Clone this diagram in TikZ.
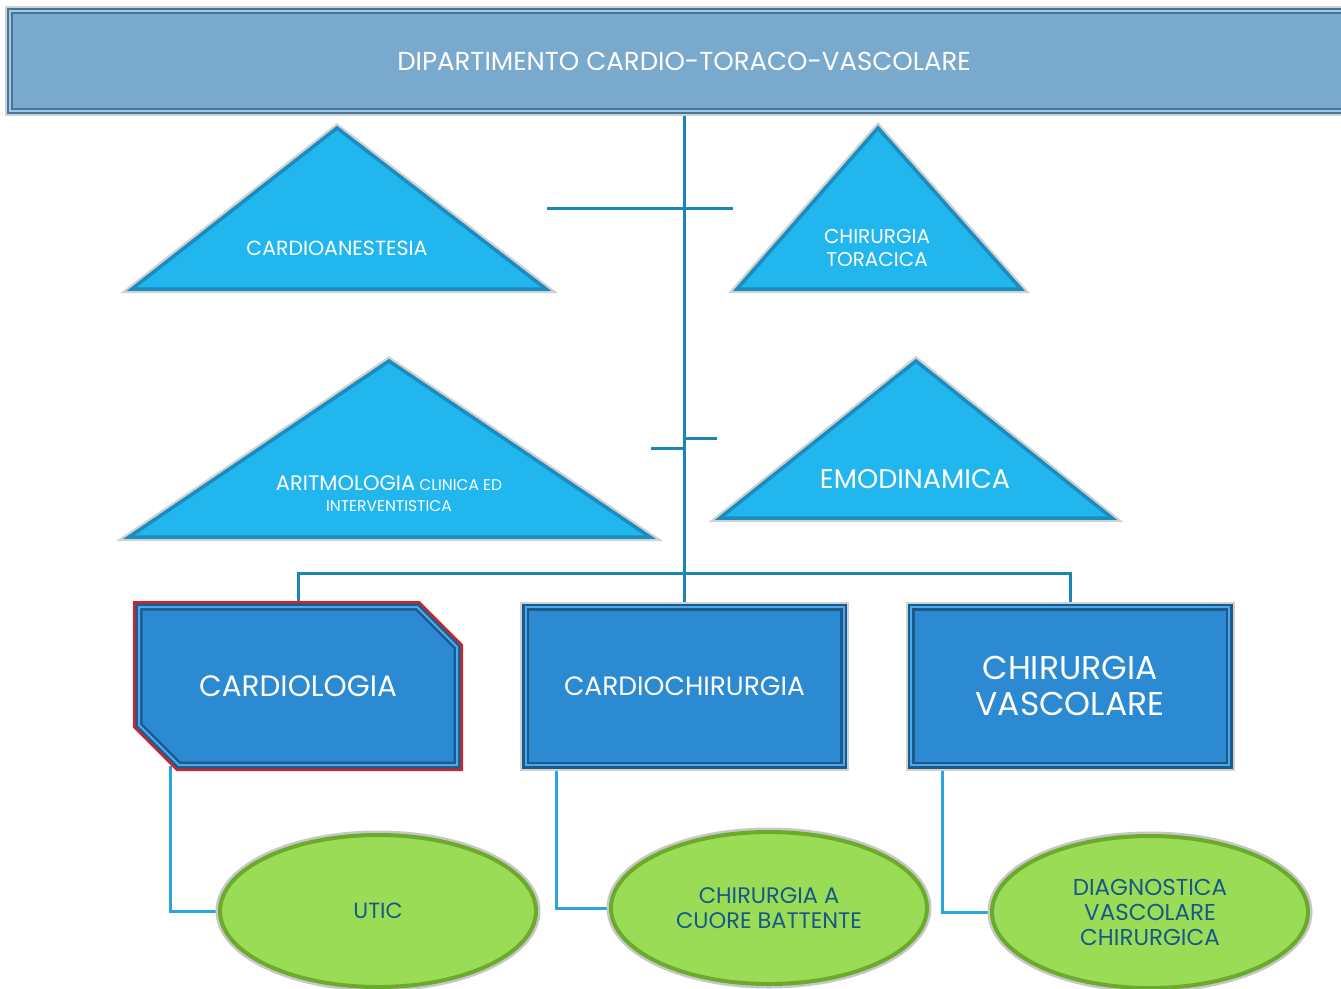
\documentclass[tikz,border=0pt]{standalone}
\usepackage{fontspec}
\setmainfont{Poppins}
\usepackage{tikz}
\usetikzlibrary{shapes.geometric,shapes.misc,backgrounds}
\definecolor{bannerblu}{HTML}{79AACD}
\definecolor{bannerscuro}{HTML}{4A7696}
\definecolor{bannerchiaro}{HTML}{9CCBEA}
\definecolor{triblu}{HTML}{22B6EE}
\definecolor{triscuro}{HTML}{1A8CC0}
\definecolor{boxblu}{HTML}{2B8AD2}
\definecolor{boxscuro}{HTML}{1D5A8C}
\definecolor{boxchiaro}{HTML}{4AA8EC}
\definecolor{rosso}{HTML}{D2232A}
\definecolor{verde}{HTML}{9BDC56}
\definecolor{verdescuro}{HTML}{6CAA2C}
\definecolor{testoblu}{HTML}{17588A}
\definecolor{linea}{HTML}{1A86B8}
\definecolor{lineachiara}{HTML}{2AA5DB}
\newcommand{\fs}[2]{\fontsize{#1}{#2}\selectfont}
\newcommand{\triangolo}[4]{
  \coordinate (#1A) at #2;
  \coordinate (#1S) at #3;
  \coordinate (#1D) at #4;
  \filldraw[TriStyle] (#1A) -- (#1S) -- (#1D) -- cycle;
}
\tikzset{
  x=1pt, y=-1pt,
  Banner/.style={rectangle, fill=bannerblu, draw=bannerscuro, double=bannerchiaro,
    double distance=1.5pt, line width=2.5pt, minimum width=1348pt, minimum height=100pt,
    text=white, font=\fs{26}{30}, preaction={draw=black!18, line width=10pt}},
  TriStyle/.style={fill=triblu, draw=triscuro, line width=3.5pt, line join=miter,
    preaction={draw=black!18, line width=8pt}},
  TriText/.style={text=white, align=center},
  BoxStyle/.style={rectangle, fill=boxblu, draw=boxscuro, double=boxchiaro,
    double distance=2pt, line width=2.5pt, minimum width=318pt, minimum height=158pt,
    text=white, align=center, preaction={draw=black!18, line width=11pt}},
  BoxCham/.style={BoxStyle, chamfered rectangle,
    chamfered rectangle corners={north east,south west}, chamfered rectangle sep=26pt,
    preaction={draw=rosso, line width=12pt}},
  EllStyle/.style={ellipse, fill=verde, draw=verdescuro, line width=4pt,
    minimum width=316pt, minimum height=152pt, text=testoblu, align=center,
    preaction={draw=black!22, line width=9pt}},
  Linea/.style={draw=linea, line width=3pt},
  LineaChiara/.style={draw=lineachiara, line width=3pt}
}

\begin{document}
\begin{tikzpicture}
  \useasboundingbox (0,0) rectangle (1341,988);
  \node[Banner] (dip) at (684,61) {DIPARTIMENTO CARDIO-TORACO-VASCOLARE};

  \triangolo{cardioan}{(337,128)}{(132,289)}{(546,289)}
  \triangolo{toracica}{(878,128)}{(737,289)}{(1021,289)}
  \triangolo{aritmo}{(389,361)}{(129,537)}{(650,537)}
  \triangolo{emodin}{(916,361)}{(720,518)}{(1112,518)}
  \node[TriText, font=\fs{20.5}{23}] (tcardioan) at (337,248) {CARDIOANESTESIA};
  \node[TriText, font=\fs{20}{23}] (ttoracica) at (877,248) {CHIRURGIA\\TORACICA};
  \node[TriText, font=\fs{15.5}{21}] (taritmo) at (389,494)
    {{\fs{21}{21}ARITMOLOGIA} CLINICA ED\\INTERVENTISTICA};
  \node[TriText, font=\fs{27}{30}] (temodin) at (915,479) {EMODINAMICA};

  \node[BoxCham, font=\fs{29.5}{34}] (cardiologia) at (298,686) {CARDIOLOGIA};
  \node[BoxStyle, font=\fs{26.5}{30}] (cardiochir) at (684.5,686) {CARDIOCHIRURGIA};
  \node[BoxStyle, font=\fs{33}{36}] (chirvasc) at (1070,686) {CHIRURGIA\\VASCOLARE};

  \node[EllStyle, font=\fs{22}{25}] (utic) at (378,911) {UTIC};
  \node[EllStyle, font=\fs{22.5}{25}] (battente) at (769,908) {CHIRURGIA A\\CUORE BATTENTE};
  \node[EllStyle, font=\fs{23}{25}] (diagnostica) at (1150,912) {DIAGNOSTICA\\VASCOLARE\\CHIRURGICA};

  \coordinate (bus) at (684,573);
  \coordinate (stubS1) at (547,208);
  \coordinate (stubD1) at (733,208);
  \coordinate (stubS2) at (651,448);
  \coordinate (stubD2) at (717,438);
  \begin{scope}[on background layer]
    \draw[Linea] (dip.south -| cardiochir.north) -- (cardiochir.north);
    \draw[Linea] (stubS1) -- (stubD1);
    \draw[Linea] (stubS2) -- (stubS2 -| bus);
    \draw[Linea] (stubD2 -| bus) -- (stubD2);
    \draw[Linea] (cardiologia.north) |- (bus) -| (chirvasc.north);
    \draw[LineaChiara] ([xshift=-128pt]cardiologia.south) |- (utic.west);
    \draw[LineaChiara] ([xshift=-128pt]cardiochir.south) |- (battente.west);
    \draw[LineaChiara] ([xshift=-128pt]chirvasc.south) |- (diagnostica.west);
  \end{scope}
\end{tikzpicture}
\end{document}
